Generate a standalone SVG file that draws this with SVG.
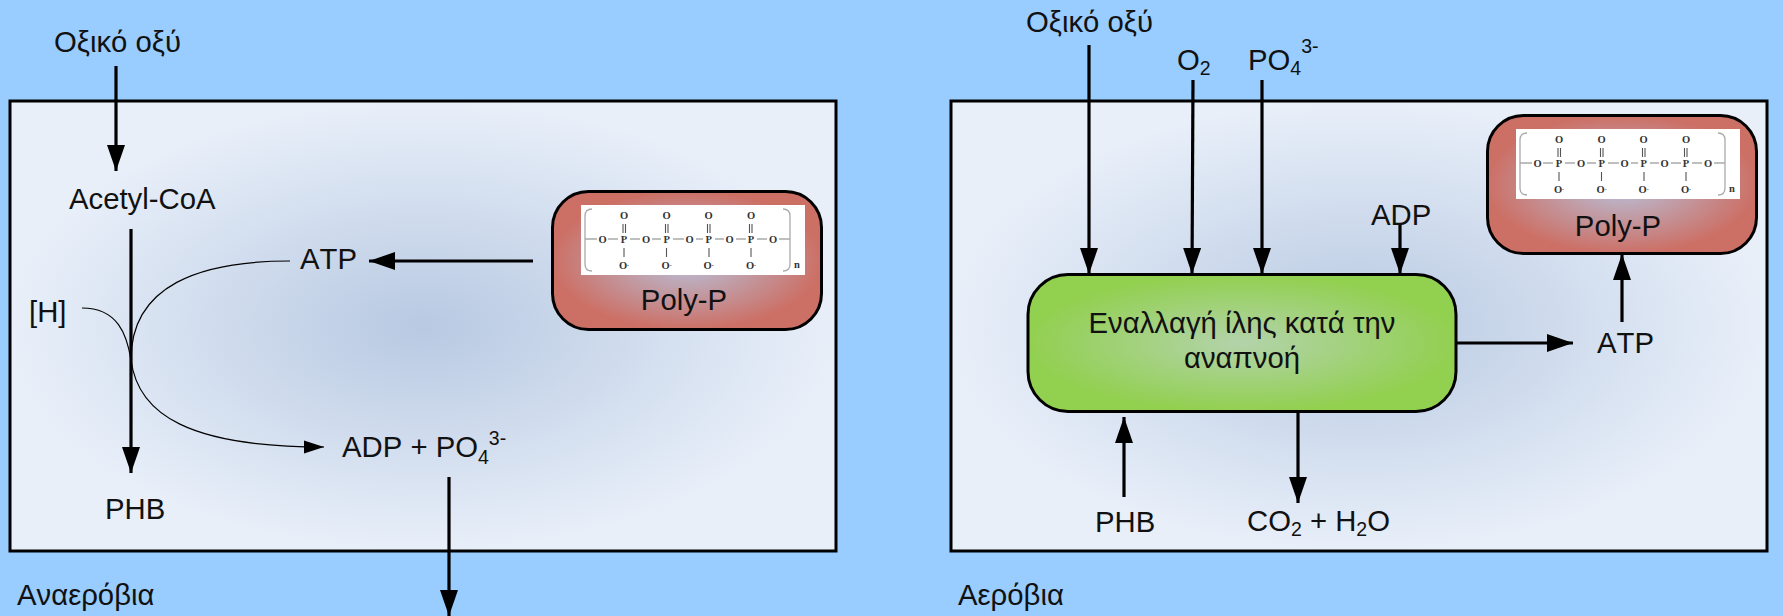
<svg xmlns="http://www.w3.org/2000/svg" width="1783" height="616" viewBox="0 0 1783 616">
<style>
text{font-family:"Liberation Sans",Arial,sans-serif;font-size:29.300px;fill:#111;font-kerning:none}
.s{font-size:19.500px}
.box{stroke:#000;stroke-width:3}
.c{fill:none;stroke:#000;stroke-width:3.200}
.t{fill:none;stroke:#000;stroke-width:1.200}
.st text{font-family:"Liberation Serif",serif;font-size:10.500px;font-weight:bold;text-anchor:middle;fill:#333}
.st .m{font-size:6px}
.st .b{fill:none;stroke:#555;stroke-width:1.100}
.st .g{fill:none;stroke:#aaa;stroke-width:1.300}
</style>
<defs>
<radialGradient id="pg"><stop offset="0" stop-color="#b8c9e2"/><stop offset="1" stop-color="#e8eff9"/></radialGradient>
<radialGradient id="rg" cx=".5" cy=".5" r=".5"><stop offset="0" stop-color="#b8c2dc"/><stop offset="1" stop-color="#cc7066"/></radialGradient>
<radialGradient id="gg" cx=".5" cy=".5" r=".5"><stop offset="0" stop-color="#b3d3ab"/><stop offset="1" stop-color="#92d050"/></radialGradient>
<marker id="a" markerUnits="userSpaceOnUse" markerWidth="26" markerHeight="18" refX="26" refY="9" viewBox="0 0 26 18" orient="auto" overflow="visible"><path d="M0 0L26 9L0 18Z"/></marker>
<marker id="a2" markerUnits="userSpaceOnUse" markerWidth="20" markerHeight="13" refX="20" refY="6.500" viewBox="0 0 20 13" orient="auto" overflow="visible"><path d="M0 0L20 6.500L0 13Z"/></marker>
<g id="chem" class="st">
<rect width="224" height="70" fill="#fff"/>
<path class="g" d="M4 34H16M27 34H37M49 34H59M71 34H80M92 34H103M115 34H122M134 34H143M155 34H165M176 34H186M198 34H209"/>
<path class="g" d="M11 4Q4 4 4 11V59Q4 66 11 66M202 66Q209 66 209 59V11Q209 4 202 4"/>
<path class="b" d="M42 19V28M44.500 19V28M84.500 19V28M87 19V28M126.500 19V28M129 19V28M168.500 19V28M171 19V28M43 43V52M85.500 43V52M128 43V52M170 43V52"/>
<text x="21.700" y="38">O</text><text x="65" y="38">O</text><text x="108.700" y="38">O</text><text x="148.700" y="38">O</text><text x="192" y="38">O</text>
<text x="43" y="38">P</text><text x="85.700" y="38">P</text><text x="127.700" y="38">P</text><text x="170" y="38">P</text>
<text x="43" y="14">O</text><text x="85.700" y="14">O</text><text x="127.700" y="14">O</text><text x="170" y="14">O</text>
<text x="43" y="64">O<tspan class="m" dy="-2">-</tspan></text><text x="85.700" y="64">O<tspan class="m" dy="-2">-</tspan></text><text x="127.700" y="64">O<tspan class="m" dy="-2">-</tspan></text><text x="170" y="64">O<tspan class="m" dy="-2">-</tspan></text>
<text x="216" y="63">n</text>
</g>
</defs>
<rect width="1783" height="616" fill="#99ccff"/>
<g id="panel-anaerobic"><rect class="box" x="10" y="101" width="826" height="450" fill="url(#pg)"/><text x="17" y="605">Αναερόβια</text></g>
<g id="panel-aerobic"><rect class="box" x="951" y="101" width="816" height="450" fill="url(#pg)"/><text x="958" y="605">Αερόβια</text></g>
<g id="polyp-left"><rect class="box" x="552.500" y="191.500" width="269" height="138" rx="36" fill="url(#rg)"/><use href="#chem" x="581" y="205"/><text x="684" y="310" text-anchor="middle">Poly-P</text></g>
<g id="polyp-right"><rect class="box" x="1487.500" y="115.500" width="269" height="138" rx="36" fill="url(#rg)"/><use href="#chem" x="1516" y="129"/><text x="1618" y="236" text-anchor="middle">Poly-P</text></g>
<g id="respiration"><rect class="box" x="1028" y="274.500" width="428" height="137" rx="40" fill="url(#gg)"/><text x="1242" y="333" text-anchor="middle">Εναλλαγή ίλης κατά την</text><text x="1242" y="368" text-anchor="middle">αναπνοή</text></g>
<g id="labels">
<text x="54" y="52">Οξικό οξύ</text>
<text x="69" y="209">Acetyl-CoA</text>
<text x="29" y="322">[H]</text>
<text x="300" y="269">ATP</text>
<text x="342" y="457">ADP + PO<tspan class="s" dy="7">4</tspan><tspan class="s" dy="-19">3-</tspan></text>
<text x="105" y="519">PHB</text>
<text x="1026" y="32">Οξικό οξύ</text>
<text x="1177" y="70">O<tspan class="s" dy="5">2</tspan></text>
<text x="1248" y="70">PO<tspan class="s" dy="5">4</tspan><tspan class="s" dy="-22">3-</tspan></text>
<text x="1371" y="225">ADP</text>
<text x="1597" y="353">ATP</text>
<text x="1095" y="532">PHB</text>
<text x="1247" y="531">CO<tspan class="s" dy="5">2</tspan><tspan dy="-5"> + H</tspan><tspan class="s" dy="5">2</tspan><tspan dy="-5">O</tspan></text>
</g>
<g id="connectors">
<path class="c" marker-end="url(#a)" d="M116 66V171"/>
<path class="c" marker-end="url(#a)" d="M131 229V473"/>
<path class="c" marker-end="url(#a)" d="M533 261H369"/>
<path class="c" marker-end="url(#a)" d="M449 477V616"/>
<path class="c" marker-end="url(#a)" d="M1089 45V274"/>
<path class="c" marker-end="url(#a)" d="M1193 80L1192 274"/>
<path class="c" marker-end="url(#a)" d="M1262 80V274"/>
<path class="c" marker-end="url(#a)" d="M1400 225V274"/>
<path class="c" marker-end="url(#a)" d="M1622 322V254"/>
<path class="c" marker-end="url(#a)" d="M1457 343H1573"/>
<path class="c" marker-end="url(#a)" d="M1124 497V417"/>
<path class="c" marker-end="url(#a)" d="M1298 412V503"/>
<path class="t" d="M290 261C200 261 131 285 131 360"/>
<path class="t" marker-end="url(#a2)" d="M82 308C118 308 127 335 131 360C138 415 190 447 324 447"/>
</g>
</svg>
